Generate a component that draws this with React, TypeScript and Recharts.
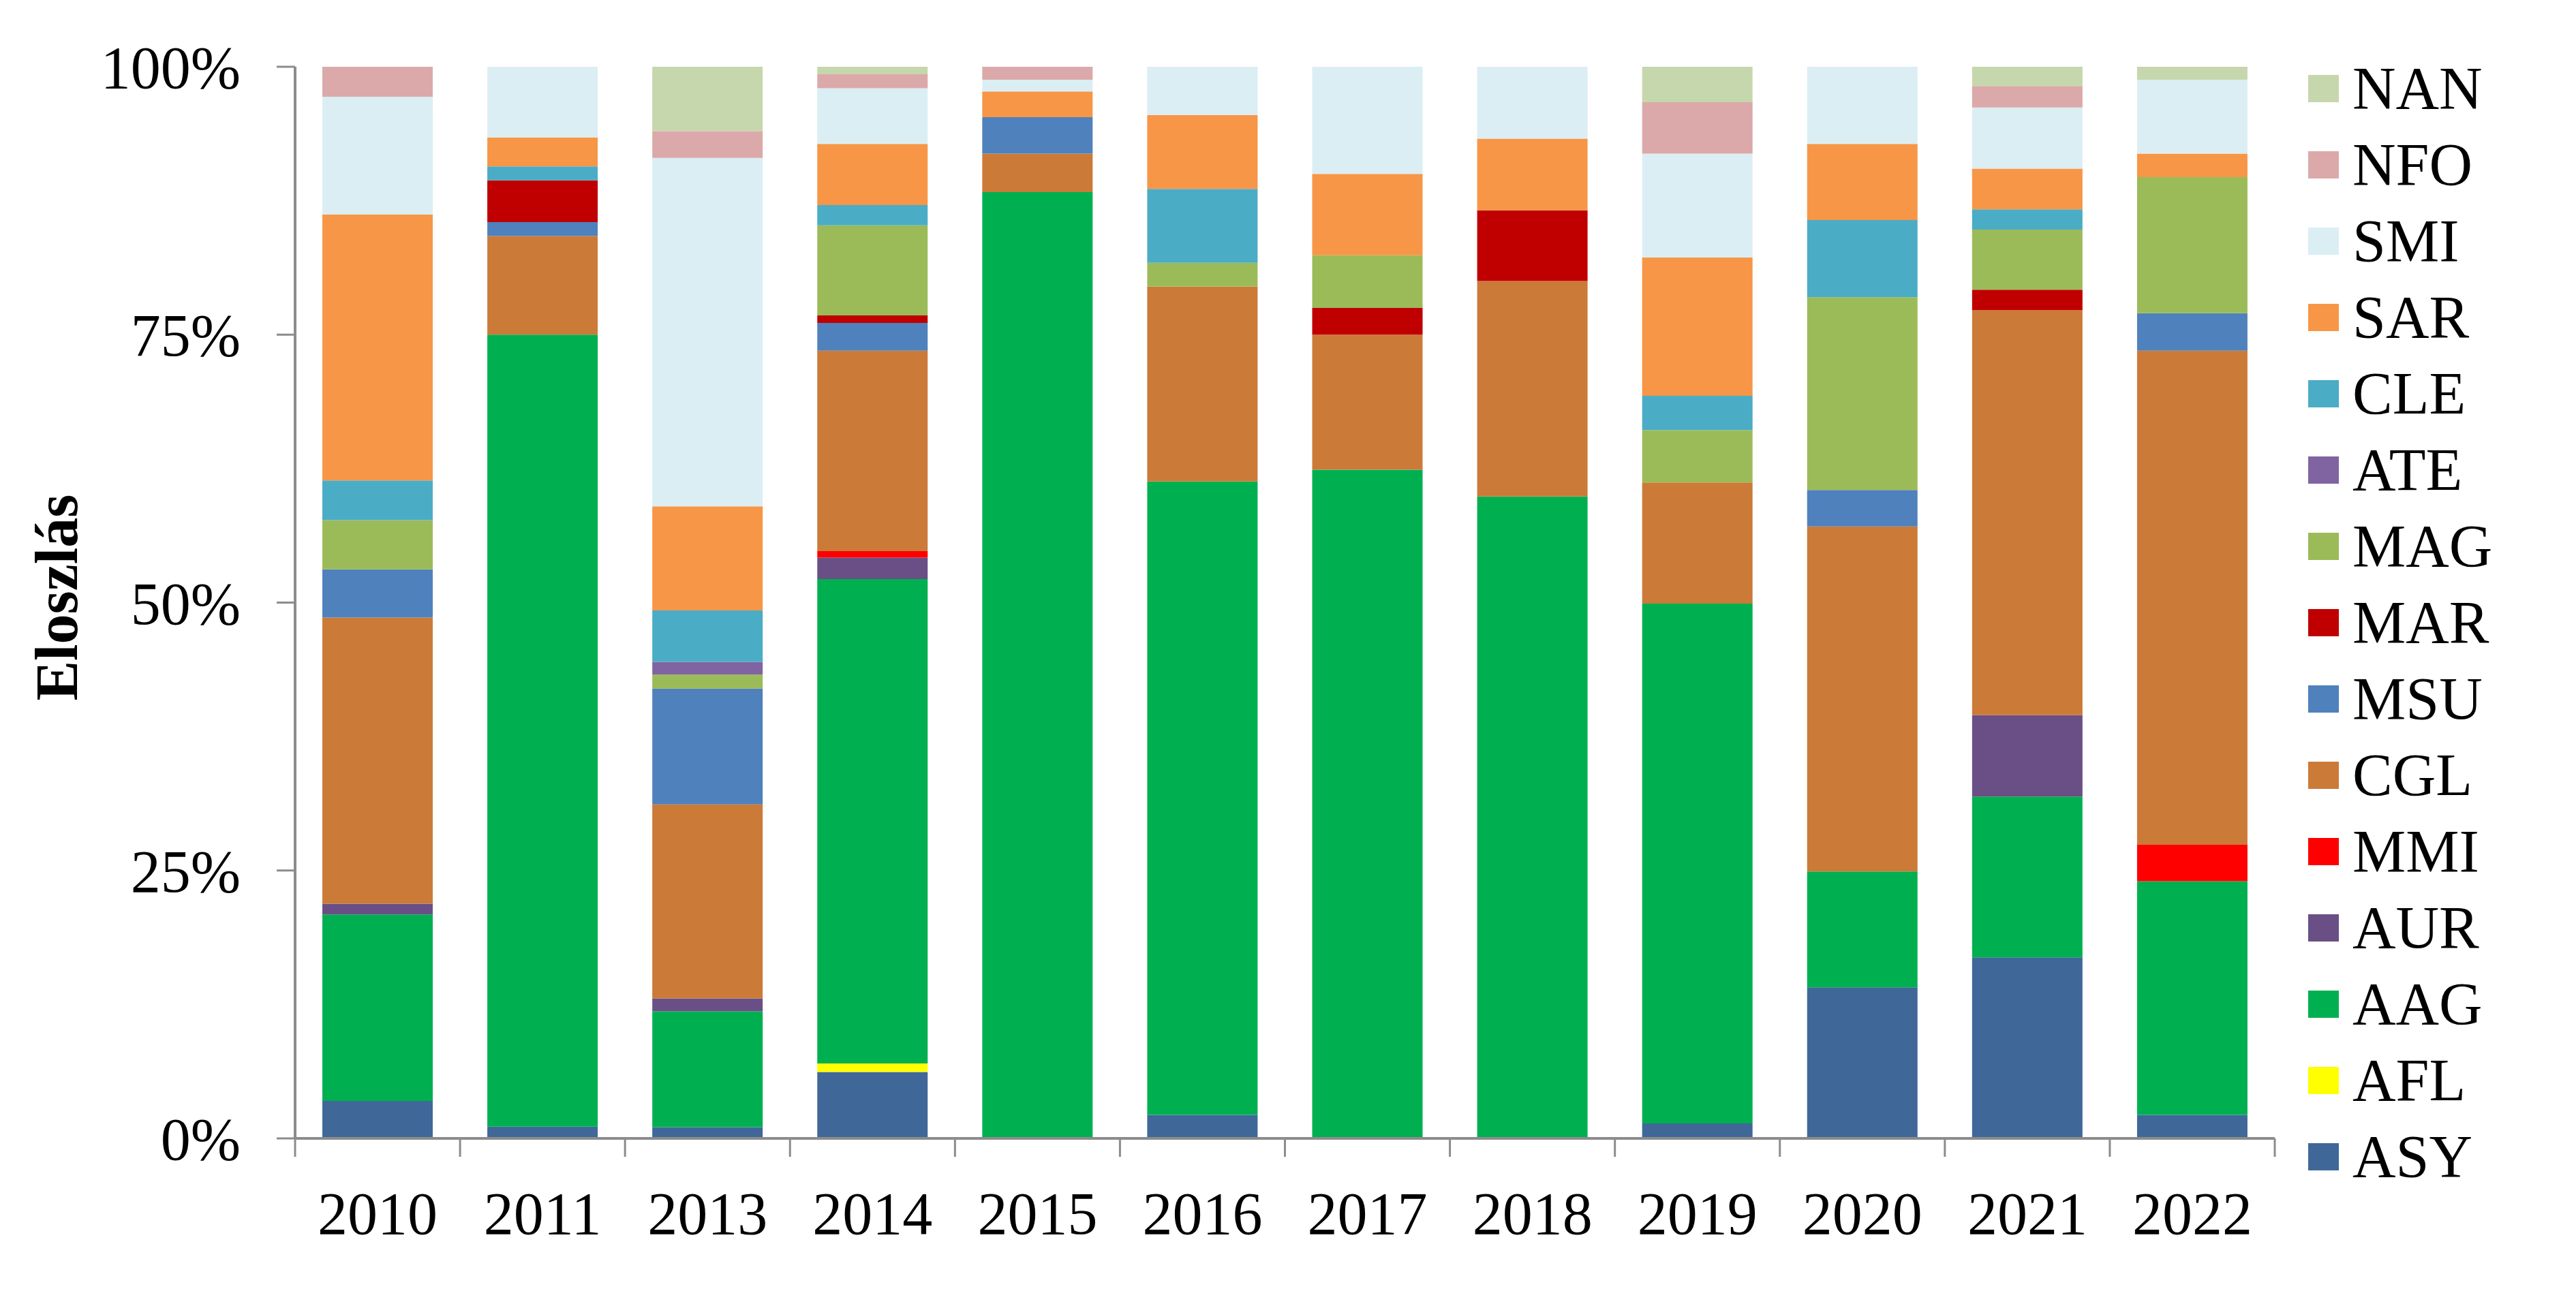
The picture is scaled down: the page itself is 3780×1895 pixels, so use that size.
import { BarChart, Bar, XAxis, YAxis, Legend } from "recharts";

const years = ["2010", "2011", "2013", "2014", "2015", "2016", "2017", "2018", "2019", "2020", "2021", "2022"];

// share of each group per year, %, bottom of the stack first
const ASY = [3.5, 1.1, 1.05, 6.2, 0, 2.2, 0, 0, 1.4, 14.1, 16.9, 2.2];
const AFL = [0, 0, 0, 0.8, 0, 0, 0, 0, 0, 0, 0, 0];
const AAG = [17.4, 73.9, 10.8, 45.2, 88.3, 59.1, 62.4, 59.9, 48.5, 10.8, 15.0, 21.8];
const AUR = [1.0, 0, 1.2, 2.0, 0, 0, 0, 0, 0, 0, 7.6, 0];
const MMI = [0, 0, 0, 0.6, 0, 0, 0, 0, 0, 0, 0, 3.4];
const CGL = [26.7, 9.2, 18.1, 18.7, 3.6, 18.2, 12.6, 20.1, 11.3, 32.2, 37.8, 46.1];
const MSU = [4.5, 1.3, 10.8, 2.6, 3.4, 0, 0, 0, 0, 3.4, 0, 3.5];
const MAR = [0, 3.9, 0, 0.7, 0, 0, 2.5, 6.6, 0, 0, 1.9, 0];
const MAG = [4.6, 0, 1.3, 8.4, 0, 2.2, 4.9, 0, 4.9, 18.0, 5.6, 12.7];
const ATE = [0, 0, 1.2, 0, 0, 0, 0, 0, 0, 0, 0, 0];
const CLE = [3.7, 1.3, 4.8, 1.9, 0, 6.9, 0, 0, 3.2, 7.2, 1.9, 0];
const SAR = [24.8, 2.7, 9.7, 5.7, 2.4, 6.9, 7.6, 6.7, 12.9, 7.1, 3.8, 2.2];
const SMI = [11.0, 6.6, 32.5, 5.2, 1.1, 4.5, 10.0, 6.7, 9.7, 7.2, 5.7, 6.9];
const NFO = [2.8, 0, 2.5, 1.3, 1.2, 0, 0, 0, 4.8, 0, 2.0, 0];
const NAN = [0, 0, 6.0, 0.7, 0, 0, 0, 0, 3.3, 0, 1.8, 1.2];

const yTicks = [0, 0.25, 0.5, 0.75, 1];

const series = [
  { key: "ASY", color: "#3F6899", values: ASY },
  { key: "AFL", color: "#FFFF00", values: AFL },
  { key: "AAG", color: "#00B050", values: AAG },
  { key: "AUR", color: "#6A4F86", values: AUR },
  { key: "MMI", color: "#FF0000", values: MMI },
  { key: "CGL", color: "#CC7A38", values: CGL },
  { key: "MSU", color: "#4F81BD", values: MSU },
  { key: "MAR", color: "#C00000", values: MAR },
  { key: "MAG", color: "#9BBB59", values: MAG },
  { key: "ATE", color: "#8064A2", values: ATE },
  { key: "CLE", color: "#4BACC6", values: CLE },
  { key: "SAR", color: "#F79646", values: SAR },
  { key: "SMI", color: "#DBEEF4", values: SMI },
  { key: "NFO", color: "#DBA9A9", values: NFO },
  { key: "NAN", color: "#C6D7AD", values: NAN },
];

const data = years.map((year, i) => {
  const row: Record<string, number | string> = { year };
  series.forEach((s) => {
    row[s.key] = s.values[i];
  });
  return row;
});

const W = 3780;
const H = 1895;
const MARGIN = { top: 98, right: 2, bottom: 0, left: 0 };
const Y_AXIS_W = 433;
const X_AXIS_H = 224;
const LEGEND_W = 440;
const PLOT_W = W - MARGIN.left - MARGIN.right - Y_AXIS_W - LEGEND_W;
const BAND = PLOT_W / years.length;
const TICK_SIZE = 27;
const X_TICK_MARGIN = 51;

const FONT = "'Times New Roman', 'Liberation Serif', serif";
const AXIS_GREY = "#8C8C8C";

const XTick = (props: any) => {
  const { x, y, payload, index } = props;
  const axisY = y - TICK_SIZE - X_TICK_MARGIN;
  const left = x - BAND / 2;
  return (
    <g>
      <line x1={left} y1={axisY} x2={left} y2={axisY + TICK_SIZE} stroke={AXIS_GREY} strokeWidth={3} />
      {index === years.length - 1 && (
        <line x1={x + BAND / 2} y1={axisY} x2={x + BAND / 2} y2={axisY + TICK_SIZE} stroke={AXIS_GREY} strokeWidth={3} />
      )}
      <text x={x} y={y} dy="0.71em" textAnchor="middle" fill="#000" fontSize={88} fontFamily={FONT}>
        {payload.value}
      </text>
    </g>
  );
};

// legend lists the stack top-down, like the bars
const renderLegend = () => (
  <div style={{ fontFamily: FONT, fontSize: 88, lineHeight: 1 }}>
    {[...series].reverse().map((s) => (
      <div key={s.key} style={{ display: "flex", alignItems: "center", height: 112 }}>
        <span style={{ display: "inline-block", width: 45, height: 40, marginLeft: 47, background: s.color }} />
        <span style={{ marginLeft: 20, color: "#000" }}>{s.key}</span>
      </div>
    ))}
  </div>
);

const renderYLabel = () => (
  <text
    x={113}
    y={877}
    transform="rotate(-90, 113, 877)"
    textAnchor="middle"
    fontSize={88}
    fontWeight="bold"
    fontFamily={FONT}
    fill="#000"
  >
    Eloszlás
  </text>
);

export default function App() {
  return (
    <div style={{ width: W, height: H, background: "#fff" }}>
      <style>{"body{margin:0}"}</style>
      <BarChart width={W} height={H} data={data} margin={MARGIN} stackOffset="expand" barSize={162}>
        <XAxis
          dataKey="year"
          height={X_AXIS_H}
          interval={0}
          tickSize={TICK_SIZE}
          tickMargin={X_TICK_MARGIN}
          tickLine={false}
          axisLine={{ stroke: AXIS_GREY, strokeWidth: 4 }}
          tick={<XTick />}
        />
        <YAxis
          width={Y_AXIS_W}
          domain={[0, 1]}
          ticks={yTicks}
          tickFormatter={(v) => `${Math.round(v * 100)}%`}
          tickSize={TICK_SIZE}
          tickMargin={53}
          axisLine={{ stroke: AXIS_GREY, strokeWidth: 4 }}
          tickLine={{ stroke: AXIS_GREY, strokeWidth: 3 }}
          tick={{ fill: "#000", fontSize: 88, fontFamily: FONT }}
          label={{ value: "Eloszlás", content: renderYLabel }}
        />
        <Legend
          layout="vertical"
          align="right"
          verticalAlign="top"
          width={LEGEND_W}
          content={renderLegend}
          wrapperStyle={{ left: 3340, top: 74, width: LEGEND_W }}
        />
        {series.map((s) => (
          <Bar key={s.key} dataKey={s.key} name={s.key} stackId="a" fill={s.color} isAnimationActive={false} />
        ))}
      </BarChart>
    </div>
  );
}
